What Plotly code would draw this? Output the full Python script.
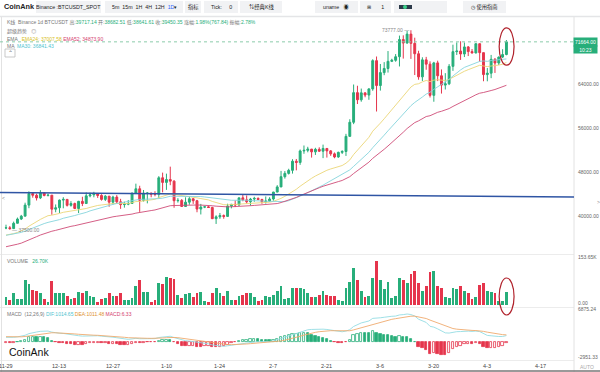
import plotly.graph_objects as go
import pandas as pd
import numpy as np

# ---------------- data ----------------
start_date = "2023-11-29"
end_date = "2024-04-08"
dates = pd.date_range(start_date, end_date, freq="D")

opens = [37820, 37855,
         37712, 38682.51, 39450.35, 39970, 41980, 44080, 43770, 43290, 44170, 43720, 43790, 41240, 41490, 42890, 43020, 41940, 42260, 41370, 42660, 42270, 43660, 43860, 43990, 43740, 43020, 43610, 42520, 43440, 42580, 42070, 42140,
         42280, 44180, 44950, 42850, 44150, 44160, 43970, 43930, 46950, 46110, 46630, 46340, 42780, 42840, 41730, 42510, 43140, 42780, 41260, 41620, 41660, 41550, 39510, 39850, 40080, 39930, 41820, 42120, 42030, 43300, 42940,
         42580, 43080, 43200, 43010, 42580, 42710, 43090, 44350, 45290, 47150, 47750, 48300, 49960, 49740, 51830, 51940, 52160, 51660, 52120, 51780, 52280, 51840, 51300, 50730, 51570, 51730, 54480, 57040, 62430,
         61130, 62390, 61990, 63110, 68250, 63720, 66070, 66820, 68120, 68310, 68960, 72080, 71450, 73070, 71390, 69500, 65300, 68390, 67610, 61940, 67840, 65500, 63800, 64040, 67210, 69880, 69990, 69460, 70740, 69890, 69650,
         71330, 69700, 65710, 65970, 68490, 67820, 68900, 69360]
highs = [38420, 38170,
         38980, 39717.14, 40200, 42420, 44490, 44300, 44050, 44700, 44360, 44040, 43800, 42100, 43000, 43420, 43090, 42700, 42430, 42760, 43500, 44280, 44240, 44400, 43990, 43950, 43800, 43600, 43680, 43800, 43120, 42600, 42900,
         44180, 45880, 45500, 44730, 44340, 44230, 44500, 47250, 47890, 47700, 48970, 46500, 43250, 43080, 43400, 43580, 43200, 42930, 42200, 41820, 41880, 41680, 40130, 40550, 40280, 42230, 42200, 42840, 43310, 43880, 43740,
         43290, 43490, 43380, 43120, 43550, 43420, 44400, 45610, 48200, 48170, 48590, 50330, 50370, 52090, 52820, 52580, 52190, 52400, 52490, 52980, 52370, 52000, 51550, 51700, 51960, 54940, 57590, 63910, 63680,
         63170, 62440, 63230, 68500, 69000, 67640, 67980, 69990, 68590, 69440, 72800, 72850, 73650, 73777, 72420, 70040, 68860, 68930, 68120, 68030, 68240, 66650, 65970, 67620, 71150, 71560, 71770, 71550, 70910, 70360, 71370,
         71340, 69700, 66900, 69290, 68720, 69000, 70330, 72000]
lows = [37600, 37500,
        37630, 38641.61, 39270, 39970, 41420, 43330, 42820, 43080, 43580, 43560, 40220, 40680, 40550, 41400, 41720, 41700, 41250, 40530, 41800, 42180, 43400, 43400, 43290, 42800, 42720, 41680, 42100, 42300, 41300, 41520, 41960,
        42180, 44150, 40750, 42630, 42300, 43400, 43580, 43200, 44300, 44750, 45600, 41500, 42440, 41720, 41720, 42050, 42200, 40680, 40280, 41430, 41500, 39450, 38555, 39480, 39500, 39820, 41390, 41620, 41800, 42680, 42280,
        41880, 42590, 42880, 42220, 42260, 42570, 42790, 44330, 45240, 46800, 47540, 47710, 48300, 49300, 51310, 51580, 50620, 51100, 51670, 50520, 50620, 50940, 50500, 50580, 51270, 50920, 54430, 56700, 60360,
        60780, 61590, 61130, 62770, 59000, 62800, 65600, 66080, 67990, 68050, 67190, 68620, 71330, 68560, 65630, 64780, 64550, 66590, 61540, 60775, 64530, 62260, 63000, 63800, 66390, 69280, 68380, 68900, 69080, 69560, 69560,
        68060, 64500, 64490, 65060, 66010, 67450, 68730, 69220]
closes = [37855, 37712,
          38682.51, 39450.35, 39970, 41980, 44080, 43770, 43290, 44170, 43720, 43790, 41240, 41490, 42890, 43020, 41940, 42260, 41370, 42660, 42270, 43660, 43860, 43990, 43740, 43020, 43610, 42520, 43440, 42580, 42070, 42140, 42280,
          44180, 44950, 42850, 44150, 44160, 43970, 43930, 46950, 46110, 46630, 46340, 42780, 42840, 41730, 42510, 43140, 42780, 41260, 41620, 41660, 41550, 39510, 39850, 40080, 39930, 41820, 42120, 42030, 43300, 42940, 42580,
          43080, 43200, 43010, 42580, 42710, 43090, 44350, 45290, 47150, 47750, 48300, 49960, 49740, 51830, 51940, 52160, 51660, 52120, 51780, 52280, 51840, 51300, 50730, 51570, 51730, 54480, 57040, 62430, 61130,
          62390, 61990, 63110, 68250, 63720, 66070, 66820, 68120, 68310, 68960, 72080, 71450, 73070, 71390, 69500, 65300, 68390, 67610, 61940, 67840, 65500, 63800, 64040, 67210, 69880, 69990, 69460, 70740, 69890, 69650, 71330,
          69700, 65710, 65970, 68490, 67820, 68900, 69360, 71664]
volumes_k = [26.6, 16,
             38.4, 19, 19, 80, 67, 48, 45, 38, 19, 11, 77, 38, 40, 37, 30, 19, 24, 43, 37, 45, 30, 27, 10, 19, 21, 37, 30, 30, 38, 16, 16,
             21, 62, 80, 43, 43, 10, 16, 70, 67, 90, 86, 84, 32, 21, 35, 40, 27, 37, 42, 12, 10, 38, 55, 38, 30, 45, 15, 17, 30, 33, 40,
             38, 25, 12, 15, 30, 25, 33, 45, 60, 20, 22, 55, 55, 55, 52, 40, 27, 25, 32, 45, 32, 30, 28, 15, 14, 55, 75, 120, 80,
             45, 25, 30, 85, 140, 80, 52, 75, 22, 28, 85, 80, 70, 98, 110, 70, 45, 60, 105, 110, 62, 55, 25, 23, 55, 50, 60, 45, 38, 20, 25,
             65, 72, 45, 42, 38, 13, 14, 42]
# closes before the window (2023-10-01 .. 2023-11-28), used to warm up MA30 / MACD
prior_closes = [27980, 27500, 27430, 27780, 27410, 27930, 27950, 27920, 27590, 27390, 26870, 26750, 26860, 26850, 27150, 28500,
                28400, 28330, 28720, 29670, 29910, 29990, 33070, 33920, 34500, 34150, 33890, 34090, 34530, 34490, 34640,
                35420, 34940, 34730, 35080, 35050, 35040, 35420, 35630, 36700, 37310, 37130, 37060, 36490, 35550, 37880, 36160,
                36600, 36570, 37360, 37450, 35760, 37420, 37290, 37720, 37800, 37450, 37240, 37820]

n = len(dates)
assert len(opens) == n and len(highs) == n and len(lows) == n and len(closes) == n and len(volumes_k) == n

# header (hovered candle) values
anchor_date = "2023-12-02"
hdr_ema24 = 37007.58
hdr_ema52 = 34873.90
hdr_ma30 = 36841.43
hdr_volume = "26.70K"
hdr_dif, hdr_dea, hdr_macd = 1014.65, 1011.48, 6.33

tick_dates = ["2023-11-29", "2023-12-13", "2023-12-27", "2024-01-10", "2024-01-24", "2024-02-07",
              "2024-02-21", "2024-03-06", "2024-03-20", "2024-04-03", "2024-04-17"]
tick_labels = ["11-29", "12-13", "12-27", "1-10", "1-24", "2-7", "2-21", "3-6", "3-20", "4-3", "4-17"]
price_ticks = [40000, 48000, 56000, 64000]
vol_axis_max = 153650
vol_tick_labels = ["0.00", "153.65K"]
macd_axis = [-2951.33, 6875.24]
trend_dates = ["2023-11-27 10:00", "2024-04-25 18:00"]
trend_prices = [44280, 43450]

# ---------------- indicators ----------------
closes_arr = np.array(closes, dtype=float)
aidx = list(dates).index(pd.Timestamp(anchor_date))


def ema_anchored(c, period, idx, val):
    a = 2.0 / (period + 1)
    e = np.zeros(len(c))
    e[idx] = val
    for i in range(idx + 1, len(c)):
        e[i] = a * c[i] + (1 - a) * e[i - 1]
    for i in range(idx, 0, -1):
        e[i - 1] = (e[i] - a * c[i]) / (1 - a)
    return e


def ema(c, period):
    a = 2.0 / (period + 1)
    e = np.zeros(len(c))
    e[0] = c[0]
    for i in range(1, len(c)):
        e[i] = a * c[i] + (1 - a) * e[i - 1]
    return e


ema24 = ema_anchored(closes_arr, 24, aidx, hdr_ema24)
ema52 = ema_anchored(closes_arr, 52, aidx, hdr_ema52)
full = np.array(prior_closes + closes, dtype=float)
npre = len(prior_closes)
ma30 = pd.Series(full).rolling(30).mean().values[npre:]
dif_full = ema(full, 12) - ema(full, 26)
dea_full = ema(dif_full, 9)
hist_full = 2 * (dif_full - dea_full)
dif = dif_full[npre:]
dea = dea_full[npre:]
hist = hist_full[npre:]
hist_prev = hist_full[npre - 1:-1]

# ---------------- styling ----------------
W, H = 600, 372
GREEN = "#27AE7A"
RED = "#E5354C"
FONT = "Liberation Sans, Noto Sans CJK SC, sans-serif"
PLOT_R = 574


def px(x):
    return x / W


def py(y):
    return 1 - y / H


day = pd.Timedelta(days=1)
px_per_day = 3.82
xr0 = pd.Timestamp(start_date) - day * (6 / px_per_day)
xr1 = xr0 + day * (PLOT_R / px_per_day)
price_top = 40000 + (216 - 18) / 0.0055
price_bot = 40000 - (252 - 216) / 0.0055

up = [c >= o for o, c in zip(opens, closes)]
bar_colors = [GREEN if u else RED for u in up]

fig = go.Figure()
fig.add_trace(go.Candlestick(
    x=dates, open=opens, high=highs, low=lows, close=closes,
    increasing=dict(line=dict(color=GREEN, width=1), fillcolor=GREEN),
    decreasing=dict(line=dict(color=RED, width=1), fillcolor=RED),
    xaxis="x", yaxis="y", showlegend=False, hoverinfo="skip"))
fig.add_trace(go.Scatter(x=dates, y=ema24, mode="lines", line=dict(color="#EBD677", width=0.9), xaxis="x", yaxis="y", hoverinfo="skip"))
fig.add_trace(go.Scatter(x=dates, y=ma30, mode="lines", line=dict(color="#86D5DD", width=0.9), xaxis="x", yaxis="y", hoverinfo="skip"))
fig.add_trace(go.Scatter(x=dates, y=ema52, mode="lines", line=dict(color="#CF4C77", width=0.9), xaxis="x", yaxis="y", hoverinfo="skip"))

fig.add_trace(go.Bar(x=dates, y=[v * 1000 for v in volumes_k], marker=dict(color=bar_colors, line=dict(width=0)),
                     width=0.74 * 86400000, xaxis="x2", yaxis="y2", hoverinfo="skip"))

hcol = [GREEN if h >= 0 else RED for h in hist]
hollow = [h > p for h, p in zip(hist, hist_prev)]
fig.add_trace(go.Bar(x=dates, y=hist,
                     marker=dict(color=["white" if ho else c for ho, c in zip(hollow, hcol)],
                                 line=dict(color=hcol, width=0.8)),
                     width=0.62 * 86400000, xaxis="x3", yaxis="y3", hoverinfo="skip"))
fig.add_trace(go.Scatter(x=dates, y=dif, mode="lines", line=dict(color="#94DCE3", width=0.9), xaxis="x3", yaxis="y3", hoverinfo="skip"))
fig.add_trace(go.Scatter(x=dates, y=dea, mode="lines", line=dict(color="#EFAA6E", width=0.9), xaxis="x3", yaxis="y3", hoverinfo="skip"))

axcommon = dict(range=[xr0, xr1], showgrid=False, zeroline=False, showline=False, domain=[0, px(PLOT_R)],
                fixedrange=True, automargin=False, showticklabels=False, ticks="")
ycommon = dict(side="right", showgrid=False, zeroline=False, showline=False, ticks="", showticklabels=False,
               automargin=False, fixedrange=True)

fig.update_layout(
    width=W, height=H, margin=dict(l=0, r=0, t=0, b=0, autoexpand=False),
    paper_bgcolor="white", plot_bgcolor="white", showlegend=False, bargap=0,
    font=dict(family=FONT),
    xaxis=dict(**axcommon, anchor="y", rangeslider=dict(visible=False)),
    xaxis2=dict(**axcommon, anchor="y2"),
    xaxis3=dict(**axcommon, anchor="y3"),
    yaxis=dict(**ycommon, domain=[py(252), py(18)], range=[price_bot, price_top], anchor="x"),
    yaxis2=dict(**ycommon, domain=[py(305), py(257)], range=[0, vol_axis_max], anchor="x2"),
    yaxis3=dict(**ycommon, domain=[py(357), py(307)], range=macd_axis, anchor="x3"),
)

shapes = []
# toolbar boxes
for x0, x1 in [(36, 101), (105, 183), (185, 201), (204, 238), (240, 282), (315, 358), (360, 391), (394, 447), (463, 506)]:
    shapes.append(dict(type="rect", xref="paper", yref="paper", x0=px(x0), x1=px(x1), y0=py(13), y1=py(1),
                       fillcolor="#F1F2F4", line=dict(width=0), layer="below"))
shapes.append(dict(type="rect", xref="paper", yref="paper", x0=px(399), x1=px(412), y0=py(9), y1=py(5),
                   fillcolor="#2C3A4A", line=dict(width=0)))
shapes.append(dict(type="circle", xref="paper", yref="paper", x0=px(403), x1=px(407), y0=py(9), y1=py(5),
                   fillcolor="#3BD18A", line=dict(width=0)))
# separators
shapes.append(dict(type="line", xref="paper", yref="paper", x0=0, x1=1, y0=py(16.5), y1=py(16.5), line=dict(color="#E4E5E7", width=1.5)))
for yy in [254.5, 307.5, 360.5]:
    shapes.append(dict(type="line", xref="paper", yref="paper", x0=0, x1=px(PLOT_R), y0=py(yy), y1=py(yy), line=dict(color="#ECECEC", width=1)))
shapes.append(dict(type="line", xref="paper", yref="paper", x0=px(PLOT_R), x1=px(PLOT_R), y0=0, y1=py(17), line=dict(color="#E2E2E2", width=1)))
shapes.append(dict(type="line", xref="paper", yref="paper", x0=px(1.5), x1=px(1.5), y0=0, y1=py(17), line=dict(color="#E2E2E2", width=1)))
shapes.append(dict(type="line", xref="paper", yref="paper", x0=0, x1=1, y0=py(371), y1=py(371), line=dict(color="#777", width=1.5)))
# header collapse button
shapes.append(dict(type="rect", xref="paper", yref="paper", x0=px(5), x1=px(15), y0=py(57), y1=py(49),
                   fillcolor="white", line=dict(color="#BBB", width=0.8)))
# trend line
shapes.append(dict(type="line", xref="x", yref="y", x0=trend_dates[0], x1=trend_dates[1], y0=trend_prices[0], y1=trend_prices[1],
                   line=dict(color="#2F55A4", width=1.4)))
# last-price dotted line
last_close = closes[-1]
shapes.append(dict(type="line", xref="paper", yref="y", x0=0, x1=px(PLOT_R), y0=last_close, y1=last_close,
                   line=dict(color="#8CCBAA", width=1, dash="dot")))
# red ellipses around the last candle / volume bar
last_date = dates[-1]
shapes.append(dict(type="circle", xref="x", yref="y", x0=last_date - 1.9 * day, x1=last_date + 2.0 * day,
                   y0=lows[-1] - 1800, y1=highs[-1] + 2200, line=dict(color="#B0202A", width=1.2)))
shapes.append(dict(type="circle", xref="x", yref="paper", x0=last_date - 1.9 * day, x1=last_date + 2.0 * day,
                   y0=py(315), y1=py(278), line=dict(color="#B0202A", width=1.2)))
fig.update_layout(shapes=shapes)

ann = []


def A(x, y, text, size=5.5, color="#333", xanchor="left", **kw):
    ann.append(dict(xref="paper", yref="paper", x=px(x), y=py(y), text=text, showarrow=False,
                    xanchor=xanchor, yanchor="middle", font=dict(size=size, color=color, family=FONT), **kw))


def span(t, c):
    return '<span style="color:%s">%s</span>' % (c, t)


# x-axis (date) labels
for d, t in zip(tick_dates, tick_labels):
    ann.append(dict(xref="x3", yref="paper", x=d, y=py(366), text=t, showarrow=False,
                    xanchor="center", yanchor="middle", font=dict(size=5.5, color="#444", family=FONT)))

# right axis labels
for p in price_ticks:
    ann.append(dict(xref="paper", yref="y", x=px(PLOT_R + 2), y=p, text="%.2f" % p, showarrow=False,
                    xanchor="left", yanchor="middle", font=dict(size=5, color="#666", family=FONT)))
for v, t in zip([0, vol_axis_max], vol_tick_labels):
    ann.append(dict(xref="paper", yref="y2", x=px(PLOT_R + 2), y=v, text=t, showarrow=False,
                    xanchor="left", yanchor="middle", yshift=2 if v == 0 else 0,
                    font=dict(size=5, color="#666", family=FONT)))
for v in macd_axis:
    ann.append(dict(xref="paper", yref="y3", x=px(PLOT_R + 2), y=v, text="%.2f" % v, showarrow=False,
                    xanchor="left", yanchor="middle", yshift=-1.5 if v > 0 else 0,
                    font=dict(size=5, color="#666", family=FONT)))

# toolbar
A(2, 7, "<b>CoinAnk</b>", size=7.3, color="#222")
A(68.5, 7, "Binance :BTCUSDT_SPOT", size=5.3, color="#222", xanchor="center")
A(144, 7, "5m  15m  1H  4H  12H  " + span("1D", "#2962FF") + "▾", size=5.3, color="#222", xanchor="center")
A(193, 7, "指标", size=5.3, color="#222", xanchor="center")
A(221, 7, "Tick:     0", size=5.3, color="#222", xanchor="center")
A(261, 7, "⇅经典K线", size=5.3, color="#222", xanchor="center")
A(336, 7, "uname   ◉", size=5.3, color="#222", xanchor="center")
A(375, 7, "⊞       1", size=5.3, color="#222", xanchor="center")
A(484, 7, "◷ 使用指南", size=5.3, color="#222", xanchor="center")

# header
i = aidx
prev_c = closes[i - 1]
chg = closes[i] - prev_c
G = "#27AE7A"
gray = "#777"
line1 = (span("K线 &nbsp;Binance 1d BTCUSDT ", gray) + span("高:", gray) + span("%.2f" % highs[i], G) + " " +
         span("开:", gray) + span("%.2f" % opens[i], G) + " " + span("低:", gray) + span("%.2f" % lows[i], G) + " " +
         span("收:", gray) + span("%.2f" % closes[i], G) + " " + span("涨幅:", gray) +
         span("%.2f%%(%.2f)" % (chg / prev_c * 100, chg), G) + " " + span("振幅:", gray) +
         span("%.2f%%" % ((highs[i] - lows[i]) / prev_c * 100), G))
A(5, 23, line1, size=5)
A(5, 31.5, span("超级趋势 &nbsp; ◎", gray), size=5)
A(5, 39, span("EMA &nbsp; ", gray) + span("EMA24: %.2f" % hdr_ema24, "#D8C01E") + " " + span("EMA52: %.2f" % hdr_ema52, "#D43D6E"), size=5)
A(5, 46, span("MA &nbsp;", gray) + span("MA30: %.2f" % hdr_ma30, "#4FC3CF"), size=5)
A(10, 53, "⌃", size=6, color="#666", xanchor="center")
A(5, 260.5, span("VOLUME &nbsp; ", gray) + span(hdr_volume, G), size=5)
A(5, 314, span("MACD &nbsp;(12,26,9) ", gray) + span("DIF:%.2f" % hdr_dif, "#4FC3CF") + " " +
  span("DEA:%.2f" % hdr_dea, "#E0922F") + " " + span("MACD:%.2f" % hdr_macd, "#D43D6E"), size=5)
A(7, 352, "CoinAnk", size=10.5, color="#111")
A(586.5, 367, "AUTO", size=5, color="#AAA", xanchor="center")
A(3.5, 198, "<", size=5, color="#888", xanchor="center")
A(598, 202, ">", size=5, color="#888", xanchor="center")

# last price tag
ann.append(dict(xref="paper", yref="y", x=px(585.5), y=last_close, text="%.2f" % last_close, showarrow=False,
                xanchor="center", yanchor="middle", bgcolor=GREEN, width=23, height=8, borderpad=0,
                font=dict(size=5, color="white", family=FONT)))
ann.append(dict(xref="paper", yref="y", x=px(585.5), y=last_close, yshift=-8, text="10:23", showarrow=False,
                xanchor="center", yanchor="middle", bgcolor=GREEN, width=23, height=7, borderpad=0,
                font=dict(size=5, color="white", family=FONT)))
# high / low markers
imax = int(np.argmax(highs))
imin = int(np.argmin(lows))
ann.append(dict(xref="x", yref="y", x=dates[imax], y=highs[imax], text="%.2f —" % highs[imax], showarrow=False,
                xanchor="right", yanchor="middle", font=dict(size=5, color="#888", family=FONT)))
ann.append(dict(xref="x", yref="y", x=dates[imin], y=lows[imin], text="— %.2f" % lows[imin], showarrow=False,
                xanchor="left", yanchor="middle", font=dict(size=5, color="#888", family=FONT)))
fig.update_layout(annotations=ann)

fig.write_html("out.html", config={"displayModeBar": False},
               post_script="document.body.style.margin='0';document.body.style.overflow='hidden';")
